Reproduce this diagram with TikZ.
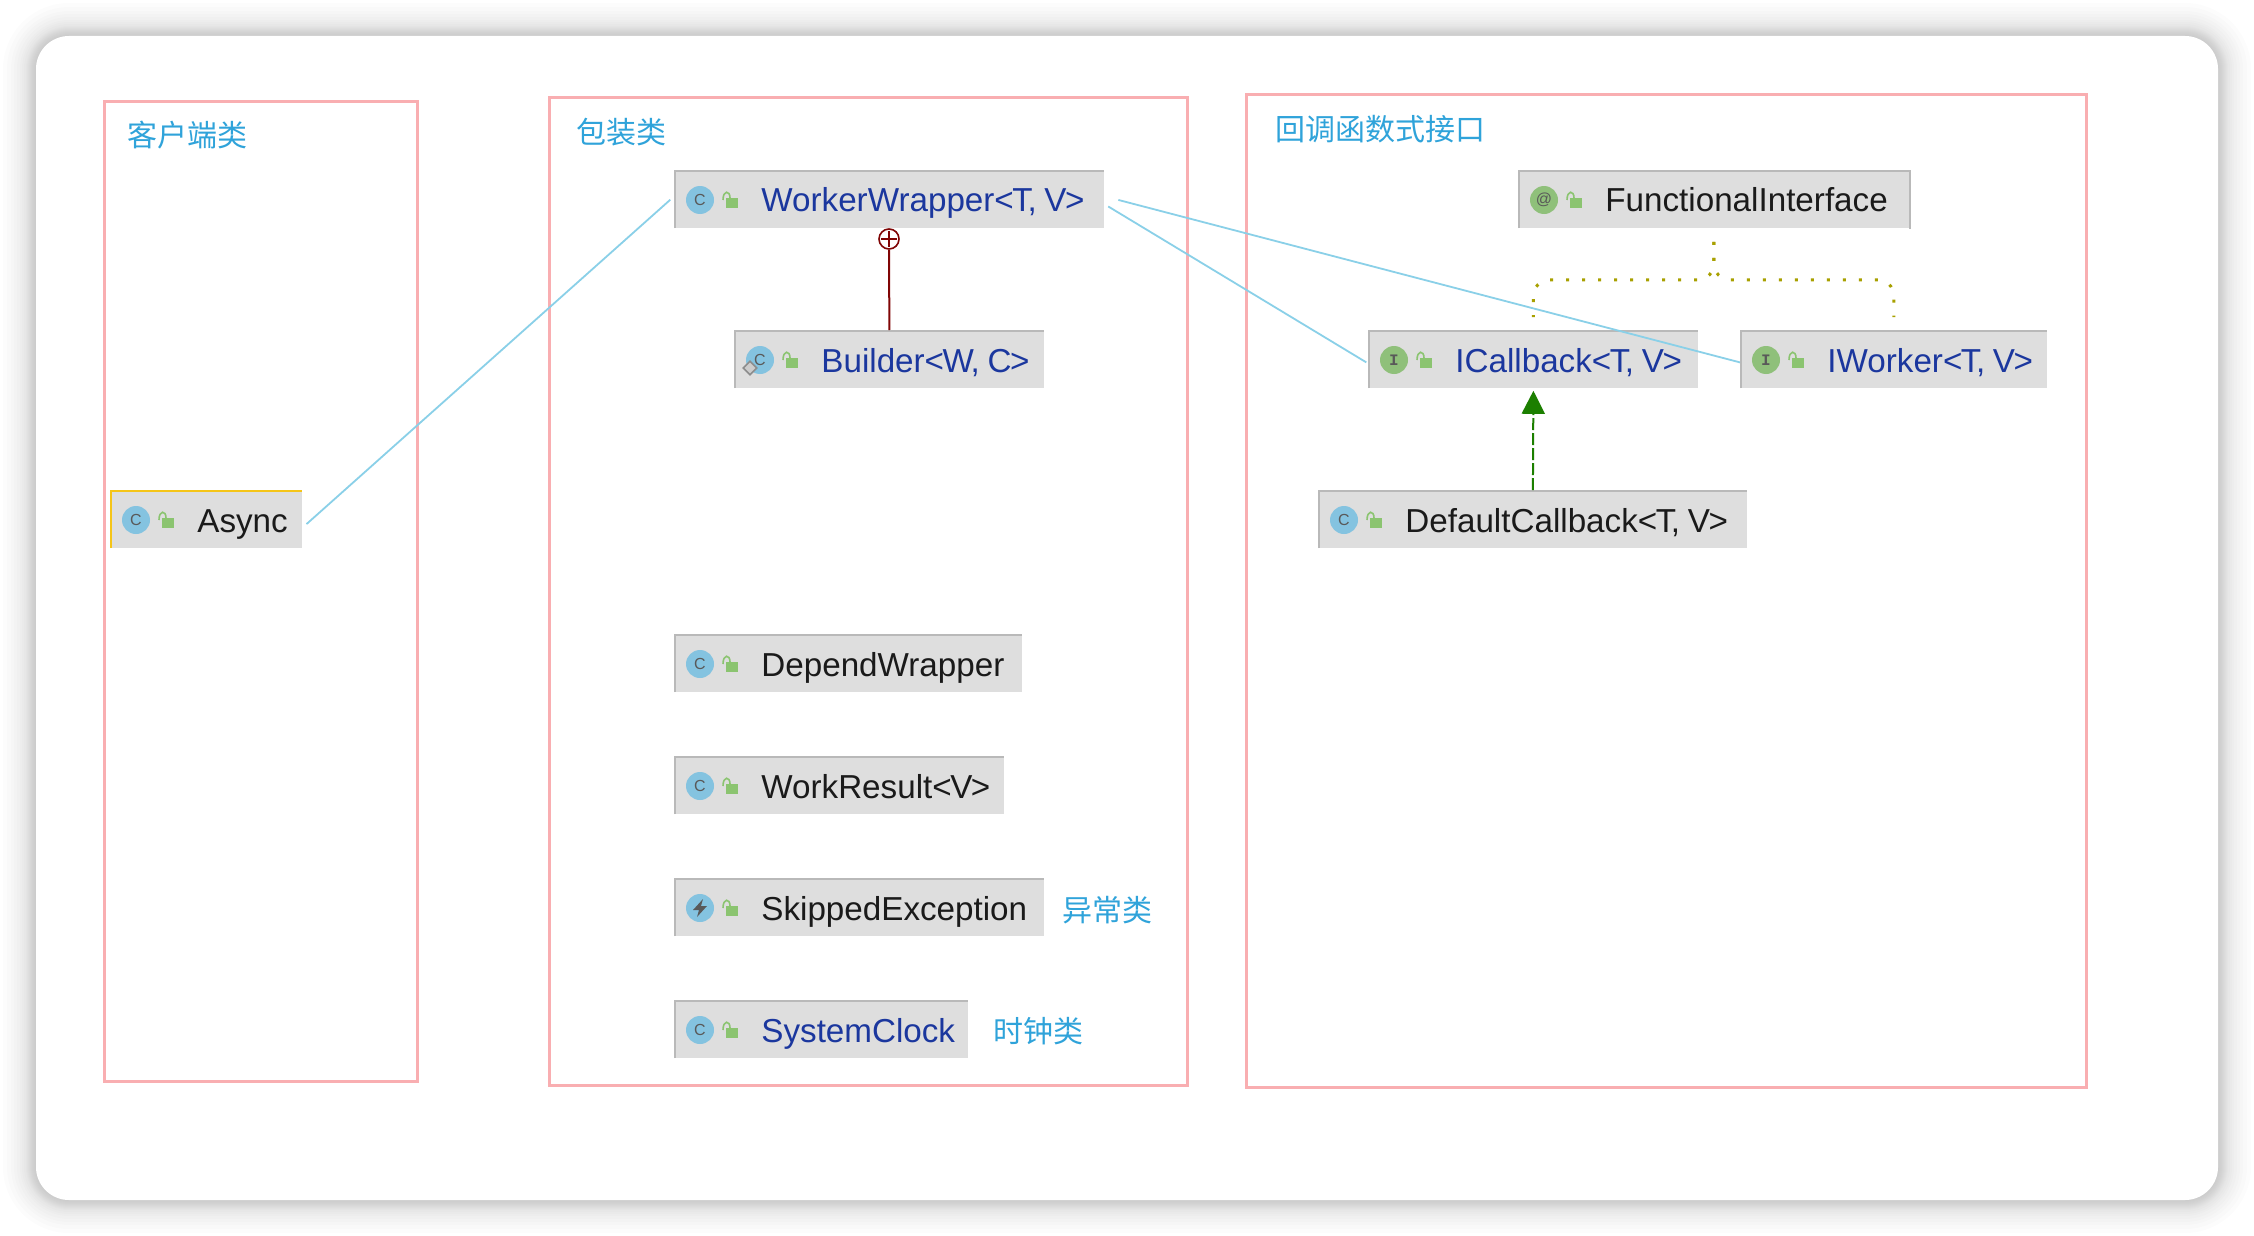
\documentclass[tikz,border=0pt]{standalone}
\usepackage{fontspec}
\usetikzlibrary{arrows.meta, shapes.geometric}
\setmainfont{Liberation Sans}
\newfontfamily\cjkfont{Noto Sans CJK SC}
\newfontfamily\glyphfont{Liberation Mono}

\definecolor{framepink}{HTML}{F9AEB1}
\definecolor{notecyan}{HTML}{2FA3DA}
\definecolor{boxgrey}{HTML}{DEDEDE}
\definecolor{edgegrey}{HTML}{B9B9B9}
\definecolor{edgeyellow}{HTML}{F5C518}
\definecolor{navyname}{HTML}{1B379E}
\definecolor{blackname}{HTML}{1A1A1A}
\definecolor{classblue}{HTML}{84C3E0}
\definecolor{ifacegreen}{HTML}{8FC07A}
\definecolor{lockgreen}{HTML}{8BC470}
\definecolor{linkblue}{HTML}{8AD0E8}
\definecolor{nestred}{HTML}{800505}
\definecolor{dotolive}{HTML}{A8A000}
\definecolor{implgreen}{HTML}{1C7F00}

\tikzset{
  groupframe/.style = {draw=framepink, line width=1.5pt},
  grouptitle/.style = {anchor=west, inner sep=0pt, text=notecyan, font=\cjkfont\fontsize{15}{18}\selectfont},
  classbox/.style = {anchor=north west, fill=boxgrey, inner sep=0pt, minimum height=29pt},
  classname/.style = {anchor=base west, inner sep=0pt, font=\fontsize{16.6}{19}\selectfont},
  classicon/.style = {circle, inner sep=0pt, minimum size=14pt, text=black!65, font=\fontsize{8}{9}\selectfont},
  linkline/.style = {draw=linkblue, line width=0.9pt},
  extendsline/.style = {draw=dotolive, line width=1.5pt, dash pattern=on 1.5pt off 6.5pt, rounded corners=8pt},
}

% tighter type arguments
\newcommand{\typeargs}[1]{{\addfontfeature{LetterSpace=-4.5}#1}}

% name, left, top, width, name colour, icon colour, icon glyph, text, edge colour
\newcommand{\umlclass}[9]{
  \begin{scope}[shift={(#2,#3)}]
    \node[classbox, minimum width=#4*0.5pt] (#1) at (0,0) {};
    \draw[#9, line width=1pt] (1,58) -- (1,1) -- (#4,1);
    \node[classicon, fill=#6] (#1-icon) at (26,30) {#7};
    \fill[lockgreen] (52,28) rectangle (64,38);
    \draw[lockgreen, line width=0.8pt] (49,30) .. controls (49,20) and (56,20) .. (56,28);
    \node[classname, text=#5] (#1-name) at (87,42) {#8};
  \end{scope}
}

\begin{document}
\begin{tikzpicture}[x=0.5pt, y=-0.5pt]
\useasboundingbox (0,0) rectangle (2254,1236);

% card and its soft shadow
\foreach \spread in {1,2,...,10,12,14,16,19,22,25,29,33} {
  \pgfmathsetmacro\cornerr{(33+\spread)/2}
  \fill[black, opacity=0.011, rounded corners=\cornerr pt] (36-\spread,36-\spread) rectangle (2218+\spread,1200+\spread);
}
\fill[white, rounded corners=16.5pt] (36,36) rectangle (2218,1200);

% group frames
\draw[groupframe] (104,102) rectangle (417,1081);
\draw[groupframe] (549,98) rectangle (1187,1085);
\draw[groupframe] (1246,95) rectangle (2086,1087);

\node[grouptitle] (clienttitle) at (127,135) {客户端类};
\node[grouptitle] (wrappertitle) at (576,132) {包装类};
\node[grouptitle] (callbacktitle) at (1275,129) {回调函数式接口};

% classes
\umlclass{async}{110}{490}{192}{blackname}{classblue}{C}{Async}{edgeyellow}

\umlclass{wrapper}{674}{170}{430}{navyname}{classblue}{C}{WorkerWrapper\typeargs{<T, V>}}{edgegrey}
\umlclass{builder}{734}{330}{310}{navyname}{classblue}{C}{Builder\typeargs{<W, C>}}{edgegrey}
\node[diamond, draw=black!45, fill=black!20, line width=0.8pt, inner sep=0pt, minimum size=7pt] (builder-mark) at (750,368) {};
\umlclass{depend}{674}{634}{348}{blackname}{classblue}{C}{DependWrapper}{edgegrey}
\umlclass{result}{674}{756}{330}{blackname}{classblue}{C}{WorkResult\typeargs{<V>}}{edgegrey}
\umlclass{skipped}{674}{878}{370}{blackname}{classblue}{}{SkippedException}{edgegrey}
\fill[black!65, shift={(skipped-icon)}] (3,-9) -- (-7,2) -- (-1,2) -- (-3,9) -- (7,-2) -- (1,-2) -- cycle;
\umlclass{clock}{674}{1000}{294}{navyname}{classblue}{C}{SystemClock}{edgegrey}

\node[grouptitle] (skippednote) at (1062,910) {异常类};
\node[grouptitle] (clocknote) at (993,1031) {时钟类};

\umlclass{functional}{1518}{170}{391}{blackname}{ifacegreen}{@}{FunctionalInterface}{edgegrey}
\draw[edgegrey, line width=1pt] (functional.north east) -- (functional.south east);
\umlclass{icallback}{1368}{330}{330}{navyname}{ifacegreen}{\glyphfont\bfseries I}{ICallback\typeargs{<T, V>}}{edgegrey}
\umlclass{iworker}{1740}{330}{307}{navyname}{ifacegreen}{\glyphfont\bfseries I}{IWorker\typeargs{<T, V>}}{edgegrey}
\umlclass{defaultcb}{1318}{490}{429}{blackname}{classblue}{C}{DefaultCallback\typeargs{<T, V>}}{edgegrey}

% nested class marker
\node[circle, draw=nestred, fill=white, line width=0.8pt, inner sep=0pt, minimum size=10pt] (nestmark) at (889,239) {};
\draw[nestred, line width=0.7pt, shorten <=1.5pt, shorten >=1.5pt] (nestmark.north) -- (nestmark.south);
\draw[nestred, line width=0.7pt, shorten <=1.5pt, shorten >=1.5pt] (nestmark.west) -- (nestmark.east);
\draw[nestred, line width=1pt] (builder.north) -- (nestmark.south);

% inheritance
\draw[extendsline, shorten <=6.5pt, shorten >=6.5pt] (functional.south) -- ++(0,51) -| (icallback.north);
\draw[extendsline, shorten <=6.5pt, shorten >=6.5pt] (functional.south) -- ++(0,51) -| (iworker.north);
\draw[implgreen, line width=1pt, dash pattern=on 6pt off 1.5pt, -{Triangle[length=11.5pt, width=11.5pt]}, shorten >=1pt] (defaultcb.north) -- (icallback.south);

% hand drawn links
\draw[linkline, shorten <=2.5pt, shorten >=2.5pt] ([yshift=-4pt]async.east) -- ([yshift=1.5pt]wrapper.west);
\draw[linkline, shorten <=2pt, shorten >=1pt] ([yshift=-2.5pt]wrapper.east) -- ([yshift=-2pt]icallback.west);
\draw[linkline, shorten <=7pt] ([yshift=1.5pt]wrapper.east) -- ([yshift=-1.5pt]iworker.west);

\end{tikzpicture}
\end{document}
